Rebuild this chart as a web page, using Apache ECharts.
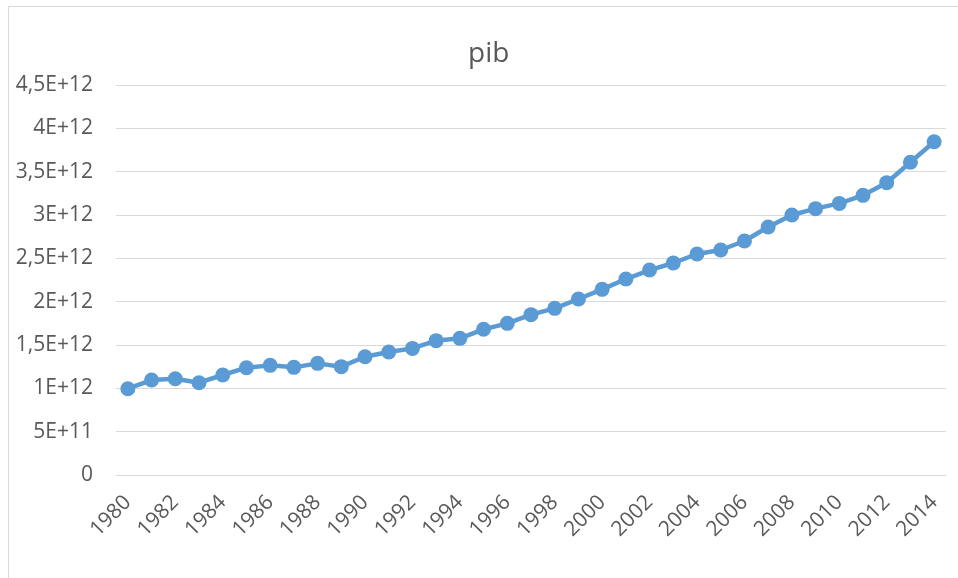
<!DOCTYPE html>
<html>
<head>
<meta charset="utf-8">
<script src="https://cdn.jsdelivr.net/npm/echarts@6/dist/echarts.min.js"></script>
<style>
html,body{margin:0;padding:0;background:#fff;}
#chart{width:958px;height:578px;}
</style>
</head>
<body>
<div id="chart"></div>
<script>
var years = ['1980','1981','1982','1983','1984','1985','1986','1987','1988','1989',
  '1990','1991','1992','1993','1994','1995','1996','1997','1998','1999',
  '2000','2001','2002','2003','2004','2005','2006','2007','2008','2009',
  '2010','2011','2012','2013','2014'];
var pib = [0.996e12,1.096e12,1.111e12,1.065e12,1.154e12,1.238e12,1.265e12,1.242e12,1.288e12,1.250e12,
  1.365e12,1.419e12,1.461e12,1.550e12,1.577e12,1.681e12,1.750e12,1.850e12,1.923e12,2.031e12,
  2.142e12,2.261e12,2.365e12,2.446e12,2.550e12,2.596e12,2.700e12,2.861e12,3.000e12,3.073e12,
  3.134e12,3.227e12,3.373e12,3.608e12,3.846e12];
var yTickLabels = ['0','5E+11','1E+12','1,5E+12','2E+12','2,5E+12','3E+12','3,5E+12','4E+12','4,5E+12'];
var yStep = 5e11;

var chart = echarts.init(document.getElementById('chart'), null, {renderer:'canvas'});
var font = '"Open Sans", "Liberation Sans", sans-serif';
chart.setOption({
  animation:false,
  backgroundColor:'#ffffff',
  graphic:[{type:'rect', shape:{x:8.5,y:6.5,width:1000,height:1000}, style:{fill:'none', stroke:'#d9d9d9', lineWidth:1}, z:-1}],
  title:{text:'pib', left:463, top:35, textStyle:{fontFamily:font, fontSize:28, fontWeight:'normal', color:'#595959'}},
  grid:{left:116, right:12, top:85, bottom:103, containLabel:false},
  xAxis:{type:'category', data:years, boundaryGap:true,
    axisLine:{show:true, lineStyle:{color:'#d9d9d9', width:1}},
    axisTick:{show:false},
    axisLabel:{interval:1, rotate:45, margin:24, color:'#595959', fontFamily:font, fontSize:21}},
  yAxis:{type:'value', min:0, max:4.5e12, interval:yStep,
    axisLine:{show:false}, axisTick:{show:false},
    splitLine:{lineStyle:{color:'#d9d9d9', width:1}},
    axisLabel:{margin:23, color:'#595959', fontFamily:font, fontSize:21,
      formatter:function(v){ return yTickLabels[Math.round(v/yStep)]; }}},
  series:[{type:'line', data:pib, symbol:'circle', symbolSize:15,
    lineStyle:{color:'#5b9bd5', width:4.5},
    itemStyle:{color:'#5b9bd5'}}]
});
</script>
</body>
</html>
